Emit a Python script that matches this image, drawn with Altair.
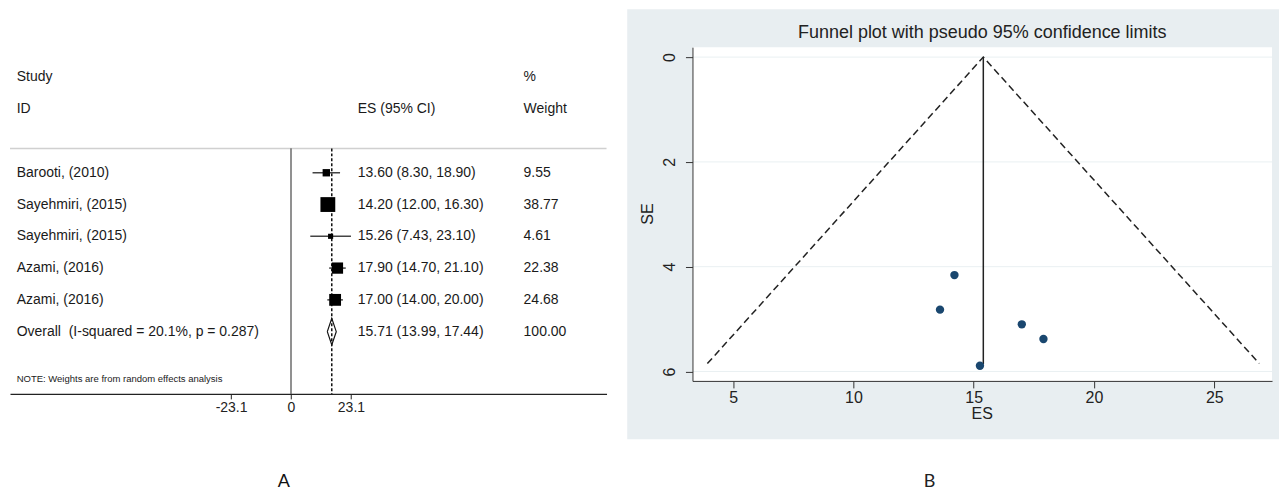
import altair as alt
import pandas as pd

FONT = "Liberation Sans"

# ---------------- Panel A data (forest plot) ----------------
studies = ["Barooti, (2010)", "Sayehmiri, (2015)", "Sayehmiri, (2015)", "Azami, (2016)", "Azami, (2016)"]
es = [13.60, 14.20, 15.26, 17.90, 17.00]
ci_lo = [8.30, 12.00, 7.43, 14.70, 14.00]
ci_hi = [18.90, 16.30, 23.10, 21.10, 20.00]
weights = [9.55, 38.77, 4.61, 22.38, 24.68]

overall_label = "Overall \u00a0(I-squared = 20.1%, p = 0.287)"
overall_es = 15.71
overall_lo = 13.99
overall_hi = 17.44
overall_weight = 100.00

x_ticks_a = [-23.1, 0, 23.1]
note_text = "NOTE: Weights are from random effects analysis"

# ---------------- Panel B data (funnel plot) ----------------
funnel_es = [13.60, 14.20, 15.26, 17.90, 17.00]
funnel_se = [4.82, 4.16, 5.89, 5.38, 5.10]
limit_x = [3.93, 15.40, 26.87]
limit_se = [5.85, 0.0, 5.85]
center_x = [15.40, 15.40]
center_se = [0.0, 5.86]
x_ticks_b = [5, 10, 15, 20, 25]
y_ticks_b = [0, 2, 4, 6]

# ---------------- tables ----------------
rows = list(range(len(studies)))
forest = pd.DataFrame({"r": rows, "study": studies, "es": es, "lo": ci_lo, "hi": ci_hi, "w": weights})
forest["es_txt"] = [f"{e:.2f} ({l:.2f}, {h:.2f})" for e, l, h in zip(es, ci_lo, ci_hi)]
forest["w_txt"] = [f"{w:.2f}" for w in weights]
ov_row = len(studies)

col1 = pd.DataFrame({"r": [-3, -2] + rows + [ov_row],
                     "t": ["Study", "ID"] + studies + [overall_label]})
col2 = pd.DataFrame({"r": [-2] + rows + [ov_row],
                     "t": ["ES (95% CI)"] + list(forest["es_txt"]) +
                          [f"{overall_es:.2f} ({overall_lo:.2f}, {overall_hi:.2f})"]})
col3 = pd.DataFrame({"r": [-3, -2] + rows + [ov_row],
                     "t": ["%", "Weight"] + list(forest["w_txt"]) + [f"{overall_weight:.2f}"]})

dh = 0.42
diamond = pd.DataFrame({"x": [overall_lo, overall_es, overall_hi, overall_es, overall_lo],
                        "r": [ov_row, ov_row - dh, ov_row, ov_row + dh, ov_row],
                        "o": [0, 1, 2, 3, 4]})

one = alt.Data(values=[{"a": 1}])

WA, HA = 597, 347
xs = alt.Scale(domain=[-108.3, 121.6], nice=False, zero=False)
ys = alt.Scale(domain=[-3.953, 6.959], reverse=True, nice=False, zero=False)
ax_a = alt.Axis(values=x_ticks_a, labelExpr="'' + datum.value", title=None, grid=False,
                domainColor="#222", tickColor="#222", tickSize=5, domainWidth=1.2,
                labelFontSize=14, labelColor="#222", labelPadding=2, labelFont=FONT)

hdr = alt.Chart(one).mark_rule(color="#d0d0d0", strokeWidth=1.5).encode(
    x=alt.value(0), x2=alt.value("width"), y=alt.value(101.3))
zero_line = alt.Chart(pd.DataFrame({"x": [0]})).mark_rule(color="#222", strokeWidth=1).encode(
    x=alt.X("x:Q", scale=xs, axis=ax_a), y=alt.value(101.3), y2=alt.value("height"))
dash_line = alt.Chart(pd.DataFrame({"x": [overall_es]})).mark_rule(
    color="#111", strokeWidth=1.5, strokeDash=[3, 2]).encode(
    x=alt.X("x:Q", scale=xs, axis=ax_a), y=alt.value(101.3), y2=alt.value("height"))
ci = alt.Chart(forest).mark_rule(color="#444", strokeWidth=1.5).encode(
    x=alt.X("lo:Q", scale=xs, axis=ax_a), x2="hi:Q", y=alt.Y("r:Q", scale=ys, axis=None))
boxes = alt.Chart(forest).mark_square(color="#000", opacity=1).encode(
    x=alt.X("es:Q", scale=xs, axis=ax_a), y=alt.Y("r:Q", scale=ys, axis=None),
    size=alt.Size("w:Q", scale=alt.Scale(domain=[0, 38.77], range=[0, 220]), legend=None))
dia = alt.Chart(diamond).mark_line(color="#111", strokeWidth=1.2).encode(
    x=alt.X("x:Q", scale=xs, axis=ax_a), y=alt.Y("r:Q", scale=ys, axis=None), order="o:Q")

def txt(df, xpx, size=14):
    return alt.Chart(df).mark_text(align="left", baseline="middle", fontSize=size,
                                   color="#1a1a1a", font=FONT).encode(
        x=alt.value(xpx), y=alt.Y("r:Q", scale=ys, axis=None), text="t:N")

t1 = txt(col1, 6.7)
t2 = txt(col2, 348)
t3 = txt(col3, 514)
note = alt.Chart(pd.DataFrame({"r": [6.5], "t": [note_text]})).mark_text(
    align="left", baseline="middle", fontSize=9.5, color="#1a1a1a", font=FONT).encode(
    x=alt.value(6.7), y=alt.Y("r:Q", scale=ys, axis=None), text="t:N")
lab_a = alt.Chart(one).mark_text(fontSize=18, color="#111", font="Lato", baseline="middle").encode(
    x=alt.value(274), y=alt.value(435), text=alt.value("A"))

panel_a = alt.layer(hdr, zero_line, dash_line, ci, boxes, dia, t1, t2, t3, note, lab_a).properties(
    width=WA, height=HA)

# ---------------- Panel B ----------------
WB, HB = 580, 334
xsb = alt.Scale(domain=[3.31, 27.4], nice=False, zero=False)
ysb = alt.Scale(domain=[-0.19, 6.18], reverse=True, nice=False, zero=False)
ax_bx = alt.Axis(values=x_ticks_b, title=None, grid=False, zindex=1, tickSize=7,
                 domainColor="#333", tickColor="#333", labelFontSize=16, labelColor="#222",
                 labelPadding=2, labelFont=FONT)
ax_by = alt.Axis(values=y_ticks_b, title=None, grid=False, zindex=1, tickSize=7,
                 domainColor="#333", tickColor="#333", labelFontSize=16, labelColor="#222",
                 labelAngle=270, labelAlign="center", labelBaseline="bottom", labelPadding=8,
                 labelFont=FONT)

funnel = pd.DataFrame({"es": funnel_es, "se": funnel_se})
limits = pd.DataFrame({"x": limit_x, "se": limit_se, "o": [0, 1, 2]})
center = pd.DataFrame({"x": center_x, "se": center_se})
grid = pd.DataFrame({"se": y_ticks_b})

grey = alt.Chart(one).mark_rect(color="#e8eef1").encode(
    x=alt.value(-65.3), x2=alt.value(WB + 7), y=alt.value(-38), y2=alt.value(HB + 58.3))
white = alt.Chart(one).mark_rect(color="#ffffff").encode(
    x=alt.value(0), x2=alt.value("width"), y=alt.value(0), y2=alt.value("height"))
gridl = alt.Chart(grid).mark_rule(color="#e9f0f2", strokeWidth=1).encode(
    x=alt.value(0), x2=alt.value("width"), y=alt.Y("se:Q", scale=ysb, axis=ax_by))
lim = alt.Chart(limits).mark_line(color="#222", strokeWidth=1.5, strokeDash=[7, 4]).encode(
    x=alt.X("x:Q", scale=xsb, axis=ax_bx), y=alt.Y("se:Q", scale=ysb, axis=ax_by), order="o:Q")
cen = alt.Chart(center).mark_line(color="#222", strokeWidth=1.5).encode(
    x=alt.X("x:Q", scale=xsb, axis=ax_bx), y=alt.Y("se:Q", scale=ysb, axis=ax_by))
pts = alt.Chart(funnel).mark_circle(color="#1a476f", opacity=1, size=70).encode(
    x=alt.X("es:Q", scale=xsb, axis=ax_bx), y=alt.Y("se:Q", scale=ysb, axis=ax_by))

def ltxt(t, x, y, size=16, angle=0, font=FONT):
    return alt.Chart(one).mark_text(fontSize=size, color="#222", font=font, baseline="middle",
                                    align="center", angle=angle).encode(
        x=alt.value(x), y=alt.value(y), text=alt.value(t))

title_b = ltxt("Funnel plot with pseudo 95% confidence limits", WB / 2, -13.7, size=18)
es_t = ltxt("ES", WB / 2, 367, size=16)
se_t = ltxt("SE", -44, HB / 2, size=16, angle=270)
lab_b = ltxt("B", 237.3, 435, size=18, font="Lato")

panel_b = alt.layer(grey, white, gridl, lim, cen, pts, title_b, es_t, se_t, lab_b).properties(
    width=WB, height=HB)

chart = alt.hconcat(panel_a, panel_b, spacing=86, bounds="flush").properties(
    padding={"left": 1, "top": 1, "right": 0, "bottom": 0}, background="#ffffff"
).configure(font=FONT).configure_view(strokeWidth=0, stroke="transparent")

chart.save("out.html", embed_options={"renderer": "svg", "actions": False})
